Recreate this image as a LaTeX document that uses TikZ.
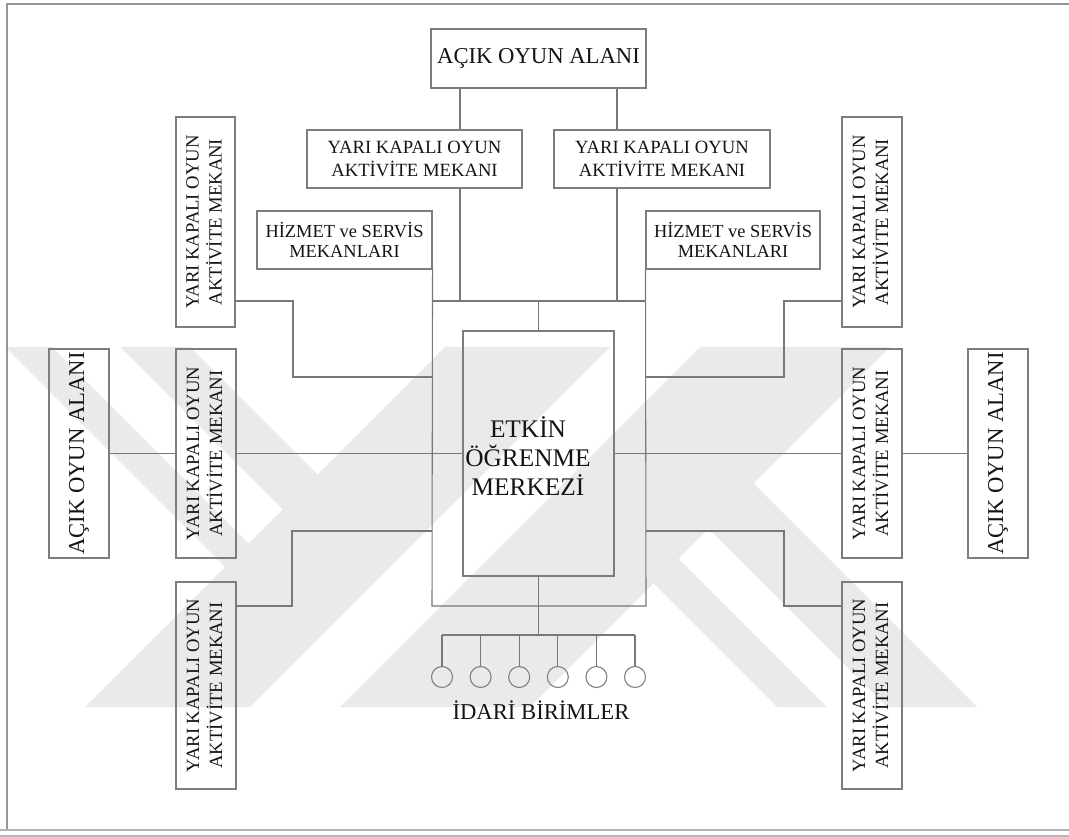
\documentclass[tikz,border=0pt]{standalone}
\usepackage{fontspec}
\setmainfont{Liberation Serif}
\usepackage{graphicx}
\definecolor{lnc}{RGB}{120,120,120}
\definecolor{bxc}{RGB}{125,125,125}
\definecolor{txc}{RGB}{20,20,20}
\definecolor{brd}{RGB}{150,150,150}
\definecolor{wmk}{RGB}{234,234,234}
\newcommand\fsz[2]{\fontsize{#1}{#2}\selectfont}
\newcommand\vtwo[2]{\rotatebox{90}{\fsz{14}{17.25}\begin{tabular}{@{}c@{}}#1\\#2\end{tabular}}}
\newcommand\vone[1]{\rotatebox{90}{\fsz{17}{20}#1}}
\tikzset{
  bx/.style 2 args={draw=bxc, line width=0.8pt, minimum width=#1*0.75pt, minimum height=#2*0.75pt,
    inner sep=0pt, text=txc, align=center},
  conn/.style={draw=lnc, line width=0.8pt},
  unit/.style={circle, draw=bxc, line width=0.8pt, minimum size=21*0.75pt, inner sep=0pt},
  wm/.style={fill=wmk, draw=none},
}
\begin{document}
\begin{tikzpicture}[x=0.75pt,y=-0.75pt]
\useasboundingbox (0,0) rectangle (1069,837);
% watermark (background)
\fill[wm] (445,347) -- (610,347) -- (250,707) -- (85,707) -- cycle;
\fill[wm] (5,347) -- (52,347) -- (289.75,584.75) -- (266.25,608.25) -- cycle;
\fill[wm] (120,347) -- (190,347) -- (358.75,515.75) -- (323.75,550.75) -- cycle;
\fill[wm] (700,347) -- (890,347) -- (530,707) -- (340,707) -- cycle;
\fill[wm] (606,536) -- (631,511) -- (827,707) -- (777,707) -- cycle;
\fill[wm] (661,481) -- (706,436) -- (977,707) -- (887,707) -- cycle;
% page border
\draw[brd, line width=0.8pt] (7,830) -- (7,4) -- (1069,4);
\draw[brd!120!black, line width=1.4pt] (0,830) -- (1069,830);
\draw[brd!70, line width=1pt] (0,836) -- (1069,836);

% boxes
\node[bx={215}{59}, font=\fsz{17}{20}] (topA) at (538.5,58.5) {AÇIK OYUN ALANI};
\node[bx={215}{58}, font=\fsz{14}{17}] (yL) at (414.5,159) {YARI KAPALI OYUN\\AKTİVİTE MEKANI};
\node[bx={216}{58}, font=\fsz{14}{17}] (yR) at (662,159) {YARI KAPALI OYUN\\AKTİVİTE MEKANI};
\node[bx={175}{58}, font=\fsz{13.8}{15.5}] (hL) at (344.5,240) {HİZMET ve SERVİS\\MEKANLARI};
\node[bx={174}{58}, font=\fsz{13.8}{15.5}] (hR) at (733,240) {HİZMET ve SERVİS\\MEKANLARI};

\node[bx={59}{210}] (vUL) at (205.5,222) {\vtwo{YARI KAPALI OYUN}{AKTİVİTE MEKANI}};
\node[bx={60}{209}] (vML) at (206,453.5) {\vtwo{YARI KAPALI OYUN}{AKTİVİTE MEKANI}};
\node[bx={60}{207}] (vLL) at (206,685.5) {\vtwo{YARI KAPALI OYUN}{AKTİVİTE MEKANI}};
\node[bx={60}{209}] (aL) at (79,453.5) {\vone{AÇIK OYUN ALANI}};

\node[bx={60}{210}] (vUR) at (872,222) {\vtwo{YARI KAPALI OYUN}{AKTİVİTE MEKANI}};
\node[bx={60}{209}] (vMR) at (872,453.5) {\vtwo{YARI KAPALI OYUN}{AKTİVİTE MEKANI}};
\node[bx={60}{207}] (vLR) at (872,685.5) {\vtwo{YARI KAPALI OYUN}{AKTİVİTE MEKANI}};
\node[bx={60}{209}] (aR) at (998,453.5) {\vone{AÇIK OYUN ALANI}};

\node[bx={151}{245}] (C) at (538.5,453.5) {};
\node[font=\fsz{19}{21.75}, text=txc, align=center, inner sep=0pt] (Ct) at (528,456) {ETKİN\\ÖĞRENME\\MERKEZİ};

% frame coordinates
\coordinate (xl) at (460,0);
\coordinate (xr) at (617,0);
\coordinate (fTL) at (432,301);
\coordinate (fTR) at (646,301);
\coordinate (fBL) at (432,606);
\coordinate (fBR) at (646,606);
\coordinate (kUL) at (293,377);
\coordinate (kLL) at (292,531);
\coordinate (kUR) at (784,377);
\coordinate (kLR) at (784,531);

% top connectors
\draw[conn] (topA.south -| xl) -- (yL.north -| xl);
\draw[conn] (topA.south -| xr) -- (yR.north -| xr);
\draw[conn] (yL.south -| xl) -- (fTL -| xl);
\draw[conn] (yR.south -| xr) -- (fTR -| xr);
\draw[conn] (fTL) -- (fTR);
\draw[conn] (C.north) -- (C.north |- fTL);
% frame
\draw[conn] (hL.south east) -- (fBL) -- (fBR) -- (hR.south west);
% middle row
\draw[conn] (aL) -- (vML);
\draw[conn] (vML) -- (C);
\draw[conn] (C) -- (vMR);
\draw[conn] (vMR) -- (aR);
% elbows
\draw[conn] (vUL.east |- fTL) -| (kUL) -- (kUL -| fTL);
\draw[conn] (vLL.east |- fBL) -| (kLL) -- (kLL -| fBL);
\draw[conn] (vUR.west |- fTR) -| (kUR) -- (kUR -| fTR);
\draw[conn] (vLR.west |- fBR) -| (kLR) -- (kLR -| fBR);

% administrative units
\coordinate (bus) at (538.5,635);
\foreach \i/\xx in {1/442,2/480.6,3/519.2,4/557.8,5/596.4,6/635}{
  \node[unit] (u\i) at (\xx,677) {};
}
\draw[conn] (C.south) -- (bus);
\draw[conn] (u1.north |- bus) -- (u6.north |- bus);
\foreach \i in {1,...,6}{ \draw[conn] (u\i.north |- bus) -- (u\i.north); }
\node[anchor=base, font=\fsz{17}{20}, text=txc] (lab) at (541,719) {İDARİ BİRİMLER};
\end{tikzpicture}
\end{document}
